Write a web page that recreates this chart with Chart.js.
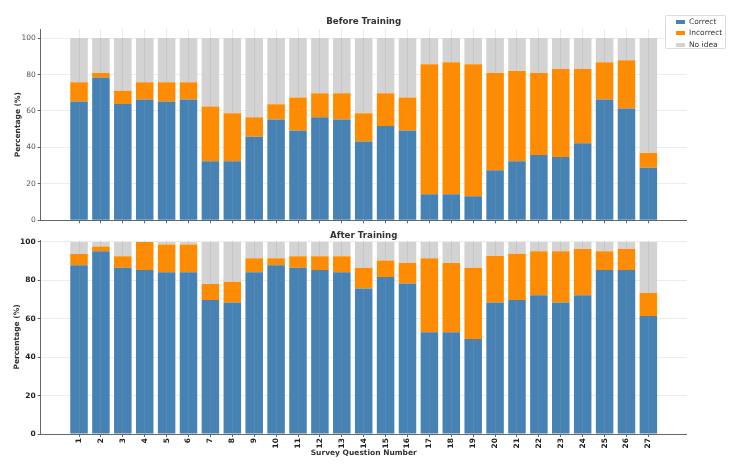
<!DOCTYPE html>
<html>
<head>
<meta charset="utf-8">
<script src="https://cdn.jsdelivr.net/npm/chart.js@4.4.1/dist/chart.umd.min.js"></script>
<style>
  html, body { margin: 0; padding: 0; background: #fff; }
  #wrap { position: relative; width: 742px; height: 471px; font-family: 'DejaVu Sans', sans-serif; }
  #before { position: absolute; left: 0; top: 0; }
  #after { position: absolute; left: 0; top: 224px; }
  #legend {
    position: absolute; left: 665px; top: 15px; width: 59px; height: 32px;
    border: 1px solid #dcdcdc; border-radius: 2px; background: #fff;
    font-size: 7.5px; color: #333;
  }
  #legend .row { position: absolute; left: 0; height: 10px; line-height: 10px; white-space: nowrap; }
  #legend .patch { position: absolute; left: 10px; top: 3px; width: 9px; height: 4px; }
  #legend .txt { position: absolute; left: 23px; top: 0; }
</style>
</head>
<body>
<div id="wrap">
  <canvas id="before" width="742" height="234"></canvas>
  <canvas id="after" width="742" height="247"></canvas>
  <div id="legend"></div>
</div>
<script>
const questions = [1, 2, 3, 4, 5, 6, 7, 8, 9, 10, 11, 12, 13, 14, 15, 16, 17, 18, 19, 20, 21, 22, 23, 24, 25, 26, 27];
const yTicks = [0, 20, 40, 60, 80, 100];

const seriesNames = ['Correct', 'Incorrect', 'No idea'];
const seriesColors = ['#4682b4', '#ff8c00', '#d3d3d3'];

// before training (%)
const beforeCorrect = [65.2, 78.4, 63.9, 66.3, 65.2, 66.3, 32.4, 32.4, 45.8, 55.3, 49.3, 56.6, 55.3, 43.2, 51.8, 49.3, 14.3, 14.3, 13.2, 27.5, 32.4, 35.9, 34.8, 42.3, 66.3, 61.3, 28.9];
const beforeIncorrect = [10.6, 2.4, 7.2, 9.5, 10.6, 9.5, 30.1, 26.4, 10.8, 8.4, 18.1, 13.2, 14.5, 15.6, 18.0, 18.1, 71.4, 72.5, 72.5, 53.3, 49.5, 44.9, 48.3, 40.8, 20.5, 26.6, 8.1];
const beforeNoIdea = [24.2, 19.2, 28.9, 24.2, 24.2, 24.2, 37.5, 41.2, 43.4, 36.3, 32.6, 30.2, 30.2, 41.2, 30.2, 32.6, 14.3, 13.2, 14.3, 19.2, 18.1, 19.2, 16.9, 16.9, 13.2, 12.1, 63.0];

// after training (%)
const afterCorrect = [87.8, 95.1, 86.6, 85.4, 84.2, 84.2, 69.7, 68.5, 84.2, 87.8, 86.6, 85.4, 84.2, 75.8, 81.7, 78.3, 53.0, 53.0, 49.4, 68.5, 69.7, 72.2, 68.5, 72.2, 85.4, 85.4, 61.4];
const afterIncorrect = [5.9, 2.5, 5.9, 14.6, 14.4, 14.4, 8.4, 10.8, 7.3, 3.7, 5.9, 7.1, 8.3, 10.8, 8.6, 10.7, 38.5, 36.0, 37.2, 24.2, 24.2, 22.9, 26.6, 24.1, 9.7, 10.9, 12.0];
const afterNoIdea = [6.3, 2.4, 7.5, 0, 1.4, 1.4, 21.9, 20.7, 8.5, 8.5, 7.5, 7.5, 7.5, 13.4, 9.7, 11.0, 8.5, 11.0, 13.4, 7.3, 6.1, 4.9, 4.9, 3.7, 4.9, 3.7, 26.6];

const FONT = 'DejaVu Sans';

function toPoints(values) {
  return values.map((v, i) => ({ x: questions[i], y: v }));
}

function makeChart(id, cfg) {
  const series = cfg.series;
  new Chart(document.getElementById(id), {
    type: 'bar',
    data: {
      datasets: series.map((vals, k) => ({
        label: seriesNames[k],
        data: toPoints(vals),
        backgroundColor: seriesColors[k],
        borderWidth: 0,
        barPercentage: 0.8,
        categoryPercentage: 1
      }))
    },
    options: {
      responsive: false,
      animation: false,
      layout: { padding: { top: cfg.padTop, right: 55.3, left: 0, bottom: 0 } },
      plugins: {
        legend: { display: false },
        tooltip: { enabled: false },
        title: {
          display: true,
          text: cfg.title,
          fullSize: false,
          color: '#333',
          font: { family: FONT, size: 8.7, weight: 'bold', lineHeight: 1 },
          padding: { top: 0, bottom: cfg.titleGap }
        }
      },
      scales: {
        x: {
          type: 'linear',
          stacked: true,
          offset: false,
          min: -0.75,
          max: 28.75,
          afterBuildTicks: (s) => { s.ticks = questions.map(q => ({ value: q })); },
          afterFit: (s) => { s.height = cfg.xHeight; },
          grid: { offset: false, color: 'rgba(160,160,160,0.22)', z: 1, tickLength: 3, tickColor: '#666' },
          border: { color: '#666', z: 1 },
          ticks: {
            display: cfg.showX,
            autoSkip: false,
            maxRotation: 90,
            minRotation: 90,
            padding: 1,
            color: '#222',
            font: { family: FONT, size: 7.5, weight: 'bold' }
          },
          title: {
            display: cfg.showX,
            text: 'Survey Question Number',
            color: '#333',
            font: { family: FONT, size: 7.5, weight: 'bold', lineHeight: 1 },
            padding: { top: 0, bottom: 14 }
          }
        },
        y: {
          stacked: true,
          min: 0,
          max: cfg.yMax,
          afterBuildTicks: (s) => { s.ticks = yTicks.map(v => ({ value: v })); },
          afterFit: (s) => { s.width = 40.7; },
          grid: { color: '#ececec', tickLength: 3, tickColor: '#666' },
          border: { color: '#666', z: 1 },
          ticks: {
            padding: 2,
            color: cfg.yTickColor,
            font: { family: FONT, size: 7.5, weight: cfg.yTickWeight }
          },
          title: {
            display: true,
            text: 'Percentage (%)',
            color: '#333',
            font: { family: FONT, size: 7.5, weight: 'bold', lineHeight: 1 },
            padding: { top: cfg.yTitlePad, bottom: 0 }
          }
        }
      }
    }
  });
}

makeChart('before', {
  title: 'Before Training',
  series: [beforeCorrect, beforeIncorrect, beforeNoIdea],
  padTop: 17.6,
  titleGap: 2.7,
  yMax: 105,
  xHeight: 13.7,
  showX: false,
  yTickColor: '#555',
  yTickWeight: 'normal',
  yTitlePad: 14.5
});

makeChart('after', {
  title: 'After Training',
  series: [afterCorrect, afterIncorrect, afterNoIdea],
  padTop: 7.3,
  titleGap: 0,
  yMax: 101,
  xHeight: 37,
  showX: true,
  yTickColor: '#222',
  yTickWeight: 'bold',
  yTitlePad: 13
});

// legend box, top right
const legend = document.getElementById('legend');
seriesNames.forEach((name, k) => {
  const row = document.createElement('div');
  row.className = 'row';
  row.style.top = (1 + k * 11.3) + 'px';
  row.innerHTML = '<span class="patch" style="background:' + seriesColors[k] + '"></span><span class="txt">' + name + '</span>';
  legend.appendChild(row);
});
</script>
</body>
</html>
